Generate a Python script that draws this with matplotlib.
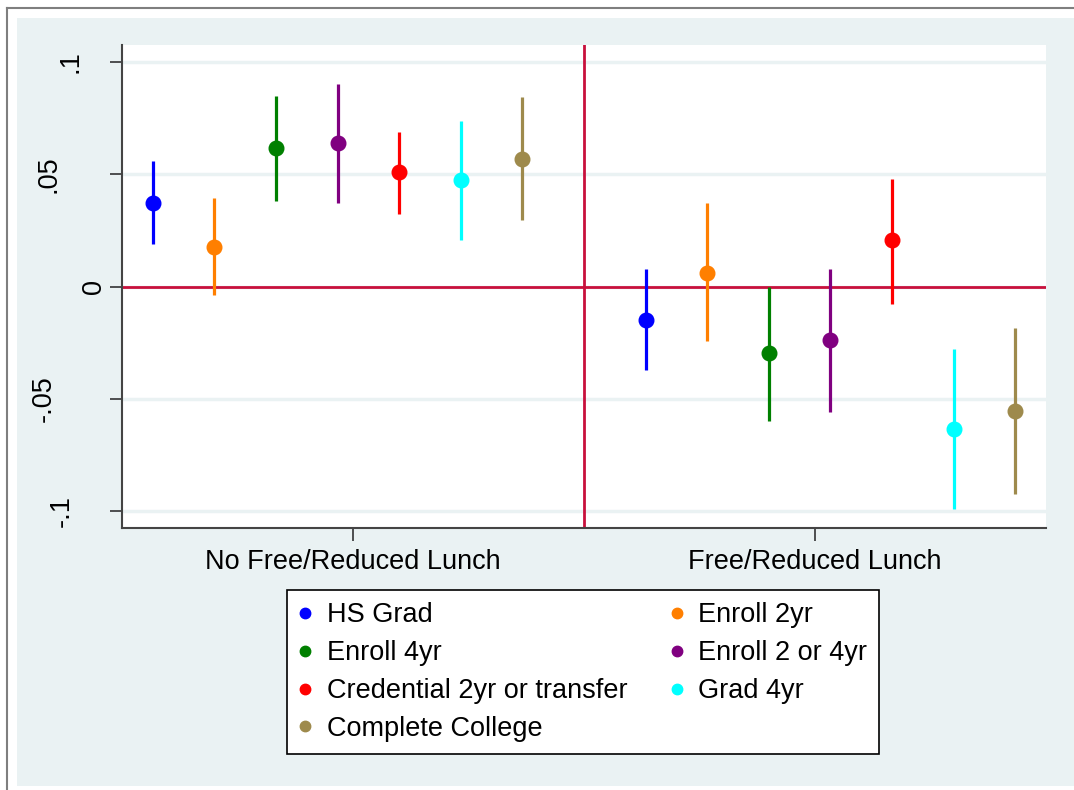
import matplotlib
matplotlib.use("Agg")
import matplotlib.pyplot as plt
import matplotlib.transforms as mtransforms
from matplotlib.lines import Line2D
from matplotlib.patches import Rectangle

plt.rcParams['font.family'] = ['Liberation Sans', 'DejaVu Sans']

groups = ["No Free/Reduced Lunch", "Free/Reduced Lunch"]
outcomes = ["HS Grad", "Enroll 2yr", "Enroll 4yr", "Enroll 2 or 4yr",
            "Credential 2yr or transfer", "Grad 4yr", "Complete College"]
colors = ["#0000FF", "#FF7F00", "#008000", "#800080", "#FF0000", "#00FFFF", "#9E8A4C"]

est_nofrl = [0.0374, 0.0178, 0.0619, 0.0641, 0.0508, 0.0476, 0.0570]
lo_nofrl = [0.0191, -0.0040, 0.0383, 0.0374, 0.0325, 0.0209, 0.0298]
hi_nofrl = [0.0557, 0.0396, 0.0850, 0.0904, 0.0690, 0.0739, 0.0846]

est_frl = [-0.0148, 0.0062, -0.0297, -0.0240, 0.0205, -0.0634, -0.0555]
lo_frl = [-0.0374, -0.0245, -0.0600, -0.0561, -0.0077, -0.0993, -0.0926]
hi_frl = [0.0076, 0.0370, 0.0000, 0.0076, 0.0479, -0.0280, -0.0187]

yticks = [-0.1, -0.05, 0, 0.05, 0.1]
ytick_labels = ["-.1", "-.05", "0", ".05", ".1"]

W, H = 1074, 790
FS = 19.5
fig = plt.figure(figsize=(W / 100, H / 100), dpi=100)
fig.patch.set_facecolor("white")

# outer frame
bg = "#EAF2F3"
fig.add_artist(Rectangle((17 / W, 4 / H), 1 - 17 / W, 1 - 22 / H,
                         transform=fig.transFigure, facecolor=bg, edgecolor="none", zorder=0))
fig.add_artist(Line2D([7 / W, 7 / W], [0, 1 - 8 / H], transform=fig.transFigure,
                      color="#7F7F7F", lw=1.5))
fig.add_artist(Line2D([7 / W, 1], [1 - 8 / H, 1 - 8 / H], transform=fig.transFigure,
                      color="#7F7F7F", lw=1.5))

ax = fig.add_axes([122 / W, 1 - 528 / H, 924 / W, 483 / H])
ax.set_facecolor("white")

data = [(est_nofrl, lo_nofrl, hi_nofrl), (est_frl, lo_frl, hi_frl)]
n = len(outcomes)
for g, (est, lo, hi) in enumerate(data):
    for i in range(n):
        x = 1 + i + (n + 1) * g
        ax.plot([x, x], [lo[i], hi[i]], color=colors[i], lw=2.3, solid_capstyle="butt", zorder=3)
        ax.plot([x], [est[i]], "o", color=colors[i], ms=10.5, zorder=4)

ax.set_xlim(0.5, 2 * n + 1.5)
ax.set_ylim(-0.1076, 0.1076)
ax.set_yticks(yticks)
ax.set_yticklabels([])
ax.set_xticks([0.5 + (2 * n + 1) * 0.25, 0.5 + (2 * n + 1) * 0.75])
ax.set_xticklabels(groups, fontsize=FS)
ax.tick_params(axis="both", direction="out", length=9, width=1.2, color="#333333")
ax.tick_params(axis="x", pad=6)

# rotated y tick labels (placed like the Stata output)
label_x_px = {"-.1": 62, "-.05": 44, "0": 94, ".05": 49, ".1": 71}
ytrans = mtransforms.blended_transform_factory(fig.transFigure, ax.transData)
for y, lab in zip(yticks, ytick_labels):
    ax.text(label_x_px[lab] / W, y, lab, transform=ytrans, rotation=90,
            ha="center", va="center", fontsize=FS, clip_on=False)

for y in yticks:
    ax.axhline(y, color=bg, lw=2.5, zorder=1)
ax.axhline(0, color="#C8103C", lw=2, zorder=2)
ax.axvline(n + 1, color="#C8103C", lw=2, zorder=2)

for s in ["top", "right"]:
    ax.spines[s].set_visible(False)
for s in ["left", "bottom"]:
    ax.spines[s].set_color("#444444")
    ax.spines[s].set_linewidth(1.5)

# legend ordered to fill row-wise in two columns
order = [0, 2, 4, 6, 1, 3, 5]
handles = [Line2D([], [], marker="o", ls="none", color=colors[i], ms=7.5) for i in order]
labels = [outcomes[i] for i in order]
leg = fig.legend(handles, labels, ncol=2, loc="upper left", mode="expand",
                 bbox_to_anchor=(287 / W, 1 - 752 / H, 592 / W, 162 / H),
                 bbox_transform=fig.transFigure,
                 fontsize=FS, frameon=True, fancybox=False, edgecolor="black",
                 framealpha=1, facecolor="white",
                 handletextpad=0.55, labelspacing=0.44,
                 borderpad=0.45, handlelength=0.46, borderaxespad=0)
leg.get_frame().set_linewidth(1.2)

fig.savefig("out.png", dpi=100, facecolor=fig.get_facecolor())
